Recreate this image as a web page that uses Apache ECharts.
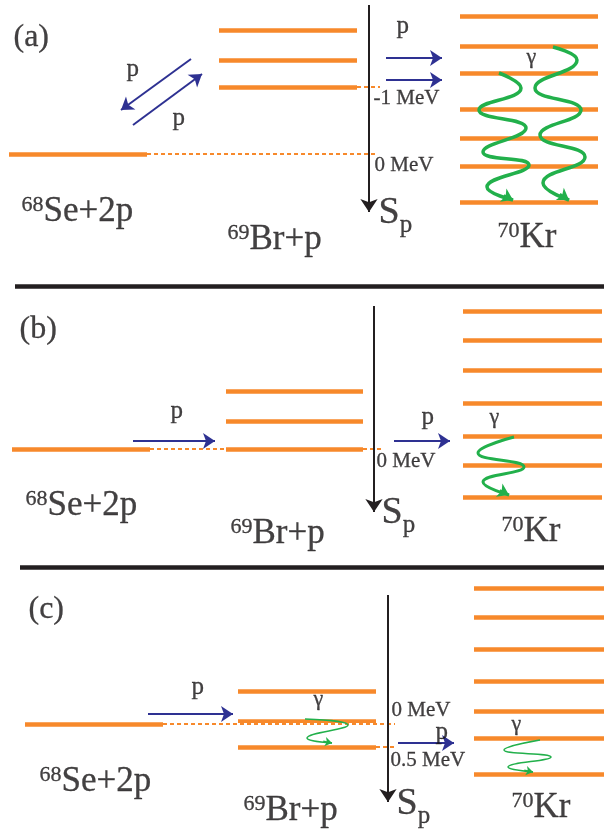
<!DOCTYPE html>
<html>
<head>
<meta charset="utf-8">
<script src="https://cdn.jsdelivr.net/npm/echarts@6/dist/echarts.min.js"></script>
<style>
  html, body { margin: 0; padding: 0; background: #fff; }
  #main { width: 604px; height: 830px; }
</style>
</head>
<body>
<div id="main"></div>
<script>
// level positions (plot units, y grows downwards) per panel and column
const seA = [154], brA = [30, 60, 87], krA = [16, 46, 73, 109, 138, 166, 202];
const seB = [449], brB = [391, 421, 449], krB = [311, 340, 370, 403, 436, 465, 497];
const seC = [724], brC = [691, 721, 747], krC = [588, 617, 649, 681, 711, 738, 774];

const masses = ['68', '69', '70'];
const systems = ['Se+2p', 'Br+p', 'Kr'];
const panelTags = ['(a)', '(b)', '(c)'];
const thresholdsA = ['-1 MeV', '0 MeV'];
const thresholdsB = ['0 MeV'];
const thresholdsC = ['0 MeV', '0.5 MeV'];

// gamma wiggles: turning points, last point is the arrow tip
const gammaA1 = [[499, 73], [521, 88], [479, 110], [526, 128], [483, 152], [529, 165], [487, 187], [513, 200]];
const gammaA2 = [[553, 47], [577, 60], [535, 88], [581, 110], [540, 135], [585, 157], [543, 183], [569, 200]];
const gammaB = [[514, 437], [478, 453], [524, 467], [483, 482], [509, 495]];
const gammaC1 = [[305, 719], [348, 725], [307, 738], [332, 743]];
const gammaC2 = [[540, 740], [504, 750], [551, 757], [508, 767], [533, 772]];

// ---- layout ----
const ORANGE = '#f7892b', BLUE = '#2e3192', GREEN = '#22b04b', INK = '#141213';
const FONT = 'Liberation Serif';

const panels = [
  { se: seA, br: brA, kr: krA, seX: [9, 147], brX: [219, 357], krX: [460, 598], spX: 369, spY: [5, 212], dashEnd: [377, 380] },
  { se: seB, br: brB, kr: krB, seX: [12, 150], brX: [226, 363], krX: [463, 602], spX: 374, spY: [306, 512], dashEnd: [226, 383] },
  { se: seC, br: brC, kr: krC, seX: [25, 163], brX: [238, 376], krX: [474, 604], spX: 388, spY: [595, 802], dashEnd: [395, 395] }
];

const levelLines = [];
const dashLines = [];
panels.forEach(p => {
  [[p.se, p.seX], [p.br, p.brX], [p.kr, p.krX]].forEach(([ys, xs]) => {
    ys.forEach(y => levelLines.push({ coords: [[xs[0], y], [xs[1], y]] }));
  });
  dashLines.push({ coords: [[p.seX[1], p.se[0]], [p.dashEnd[0], p.se[0]]] });
  const low = p.br[p.br.length - 1];
  dashLines.push({ coords: [[p.brX[1], low], [p.dashEnd[1], low]] });
});

const spArrows = panels.map(p => ({ coords: [[p.spX, p.spY[0]], [p.spX, p.spY[1]]] }));

const protonArrows = [
  [[191, 59], [121, 110]], [[133, 125], [202, 74]],
  [[386, 58], [442, 58]], [[386, 80], [442, 80]],
  [[133, 441], [215, 441]], [[394, 441], [450, 441]],
  [[148, 714], [233, 714]], [[398, 743], [454, 743]]
].map(c => ({ coords: c }));

const separators = [
  { coords: [[15, 286], [604, 286]] },
  { coords: [[20, 567], [604, 567]] }
];

function gammaLine(pts, w) {
  return {
    type: 'line', data: pts, smooth: 0.5, symbol: 'none', z: 4,
    lineStyle: { color: GREEN, width: w }, silent: true
  };
}
function arrowHead(pts) {
  const t = pts[pts.length - 1], q = pts[pts.length - 2];
  return { coords: [[t[0] - 0.35 * (t[0] - q[0]), t[1] - 0.35 * (t[1] - q[1])], t] };
}

const textBase = { fontFamily: FONT, color: INK, textBorderColor: INK, textBorderWidth: 0.3 };
const rich = {
  sup: Object.assign({ fontSize: 22, lineHeight: 22, verticalAlign: 'top' }, textBase),
  big: Object.assign({ fontSize: 35, lineHeight: 35, verticalAlign: 'top' }, textBase),
  S: Object.assign({ fontSize: 38, lineHeight: 38, verticalAlign: 'top' }, textBase),
  sub: Object.assign({ fontSize: 25, lineHeight: 25, verticalAlign: 'top', padding: [18, 0, 0, 0] }, textBase)
};

function txt(x, y, text, size) {
  return {
    value: [x, y],
    label: { formatter: text, fontSize: size || 21 }
  };
}
const nucl = i => '{sup|' + masses[i] + '}{big|' + systems[i] + '}';
const sp = '{S|S}{sub|p}';

const texts = [
  txt(14, 38, panelTags[0], 32), txt(22, 212, nucl(0)), txt(228, 240, nucl(1)), txt(498, 238, nucl(2)),
  txt(379, 214, sp), txt(397, 27, 'p', 25), txt(127, 70, 'p', 25), txt(173, 119, 'p', 25),
  txt(374, 99, thresholdsA[0]), txt(375, 166, thresholdsA[1]), txt(527, 58, 'γ', 22),

  txt(20, 330, panelTags[1], 32), txt(26, 506, nucl(0)), txt(231, 534, nucl(1)), txt(502, 532, nucl(2)),
  txt(382, 514, sp), txt(171, 412, 'p', 25), txt(422, 418, 'p', 25),
  txt(377, 462, thresholdsB[0]), txt(490, 418, 'γ', 22),

  txt(29, 610, panelTags[2], 32), txt(40, 782, nucl(0)), txt(244, 811, nucl(1)), txt(512, 808, nucl(2)),
  txt(397, 805, sp), txt(192, 688, 'p', 25), txt(436, 733, 'p', 25),
  txt(392, 711, thresholdsC[0]), txt(391, 761, thresholdsC[1]),
  txt(314, 700, 'γ', 22), txt(512, 725, 'γ', 22)
];

const chart = echarts.init(document.getElementById('main'));
chart.setOption({
  animation: false,
  backgroundColor: '#fff',
  grid: { left: 0, right: 0, top: 0, bottom: 0 },
  xAxis: { type: 'value', min: 0, max: 604, show: false },
  yAxis: { type: 'value', min: 0, max: 830, inverse: true, show: false },
  series: [
    {
      type: 'lines', coordinateSystem: 'cartesian2d', z: 2, silent: true,
      lineStyle: { color: ORANGE, width: 4.5, opacity: 1 }, data: levelLines
    },
    {
      type: 'lines', coordinateSystem: 'cartesian2d', z: 3, silent: true,
      lineStyle: { color: '#fff', width: 2, opacity: 1 }, data: dashLines
    },
    {
      type: 'lines', coordinateSystem: 'cartesian2d', z: 3, silent: true,
      lineStyle: { color: ORANGE, width: 2, type: [4, 3], opacity: 1 }, data: dashLines
    },
    {
      type: 'lines', coordinateSystem: 'cartesian2d', z: 5, silent: true,
      lineStyle: { color: '#231f20', width: 4.5, opacity: 1 }, data: separators
    },
    {
      type: 'lines', coordinateSystem: 'cartesian2d', z: 5, silent: true,
      symbol: ['none', 'arrow'], symbolSize: [0, 13],
      lineStyle: { color: '#231f20', width: 2, opacity: 1 }, data: spArrows
    },
    {
      type: 'lines', coordinateSystem: 'cartesian2d', z: 5, silent: true,
      symbol: ['none', 'arrow'], symbolSize: [0, 12],
      lineStyle: { color: BLUE, width: 2, opacity: 1 }, data: protonArrows
    },
    gammaLine(gammaA1, 3.5), gammaLine(gammaA2, 3.5), gammaLine(gammaB, 3),
    gammaLine(gammaC1, 1.5), gammaLine(gammaC2, 1.5),
    {
      type: 'lines', coordinateSystem: 'cartesian2d', z: 5, silent: true,
      symbol: ['none', 'arrow'], symbolSize: [0, 11],
      lineStyle: { color: GREEN, width: 2.5, opacity: 1 },
      data: [gammaA1, gammaA2, gammaB].map(arrowHead)
    },
    {
      type: 'lines', coordinateSystem: 'cartesian2d', z: 5, silent: true,
      symbol: ['none', 'arrow'], symbolSize: [0, 7],
      lineStyle: { color: GREEN, width: 1.5, opacity: 1 },
      data: [gammaC1, gammaC2].map(arrowHead)
    },
    {
      type: 'scatter', z: 6, silent: true, symbolSize: 1,
      itemStyle: { color: 'rgba(0,0,0,0)' },
      label: {
        show: true, position: [0, 0], align: 'left', verticalAlign: 'middle',
        fontFamily: FONT, color: INK, textBorderColor: INK, textBorderWidth: 0.3, rich: rich
      },
      data: texts
    }
  ]
});
</script>
</body>
</html>
